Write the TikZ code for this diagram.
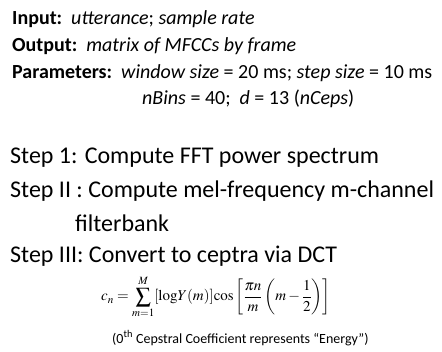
\documentclass[tikz,border=0pt]{standalone}
\usepackage{mathptmx}
\usepackage{fontspec}
\setmainfont{Carlito}
\begin{document}
\begin{tikzpicture}[x=1pt,y=-1pt,
  hdr/.style={anchor=base west,inner sep=0pt,font=\fontsize{20}{24}\selectfont},
  stp/.style={anchor=base west,inner sep=0pt,font=\fontsize{24}{28}\selectfont},
  note/.style={anchor=base west,inner sep=0pt,font=\fontsize{14}{16}\selectfont}]
\useasboundingbox (0,0) rectangle (442,351);
\node[hdr] (in) at (12,24) {\textbf{Input:}\ \ \textit{utterance}; \textit{sample rate}};
\node[hdr] (out) at (12,51) {\textbf{Output:}\ \ \textit{matrix of MFCCs by frame}};
\node[hdr] (par) at (12,78) {\textbf{Parameters:}\ \ \textit{window size} = 20 ms; \textit{step size} = 10 ms};
\node[hdr] (par2) at (142,104) {\textit{nBins} = 40;\ \ \textit{d} = 13 (\textit{nCeps})};
\node[stp] (s1) at (10,163) {Step 1: Compute FFT power spectrum};
\node[stp] (s2) at (10,197) {Step II : Compute mel-frequency m-channel};
\node[stp] (s2b) at (75,231) {filterbank};
\node[stp] (s3) at (10,262) {Step III: Convert to ceptra via DCT};
\node[inner sep=0pt,font=\fontsize{15}{18}\selectfont] (eq) at (216,297)
  {$\displaystyle c_n=\sum_{m=1}^{M}[\mathrm{log}Y(m)]\mathrm{cos}\left[\frac{\pi n}{m}\left(m-\frac{1}{2}\right)\right]$};
\node[note] (nt) at (112,343) {(0\textsuperscript{th} Cepstral Coefficient represents “Energy”)};
\end{tikzpicture}
\end{document}
